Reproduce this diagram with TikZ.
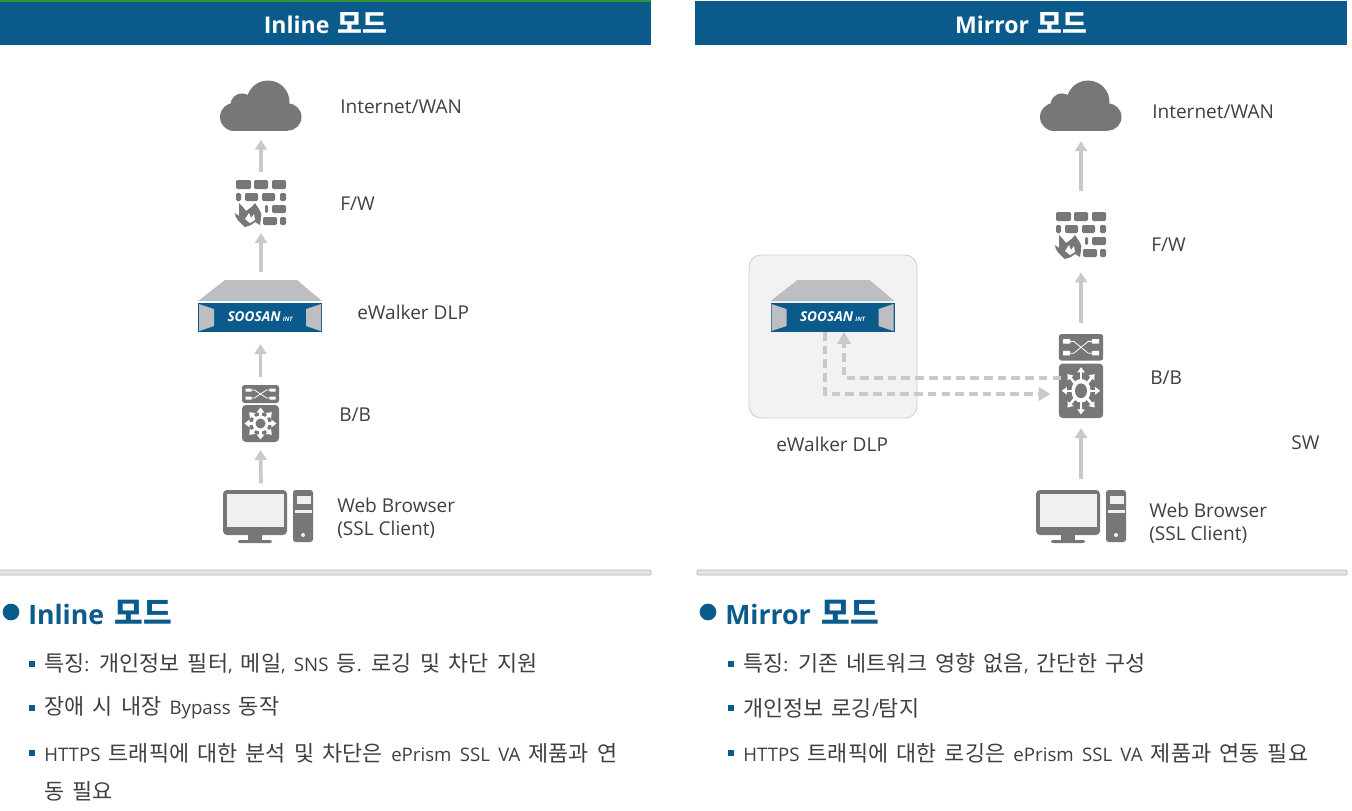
\documentclass[tikz,border=0pt]{standalone}
\usepackage{fontspec}
\setmainfont{Open Sans}
\newfontfamily\krf[Scale=1.17]{Noto Sans CJK KR}
\newcommand{\kr}[1]{{\krf #1}}
\newcommand{\wsp}[1]{\spaceskip #1\relax}
\usetikzlibrary{arrows.meta}
\definecolor{hdrblue}{HTML}{0B5A8C}
\definecolor{icongray}{HTML}{777777}
\definecolor{arrgray}{HTML}{C9C9C9}
\definecolor{txtgray}{HTML}{404040}
\definecolor{srvgray}{HTML}{BDBEC2}
\tikzset{
  x=0.75pt,y=-0.75pt,
  header/.style={fill=hdrblue,draw=none,minimum height=33pt,inner sep=0pt,text=white,font=\fontsize{17.3}{20}\selectfont\bfseries\wsp{6pt}},
  lbl/.style={anchor=west,inner sep=0pt,text=txtgray,font=\fontsize{14.3}{17.5}\selectfont,align=left},
  anchorbox/.style={inner sep=0pt,outer sep=0pt,draw=none},
  flow/.style={draw=arrgray,line width=2.8pt,-{Triangle[length=7.5pt,width=8.8pt]}},
  dflow/.style={draw=arrgray,line width=2.6pt,dash pattern=on 6.5pt off 3.8pt},
  dtip/.style={-{Triangle[length=9pt,width=10pt]}},
  bhead/.style={anchor=west,inner sep=0pt,text=hdrblue,font=\fontsize{20}{24}\selectfont\bfseries\wsp{8pt}},
  bitem/.style={anchor=west,inner sep=0pt,text=txtgray,font=\fontsize{14}{17}\selectfont\wsp{6.2pt}},
  bigdot/.style={circle,fill=hdrblue,inner sep=0pt,minimum size=12.5pt},
  smalldot/.style={rectangle,fill=hdrblue,inner sep=0pt,minimum size=4pt},
  divider/.style={fill=black!10,draw=black!30,line width=.5pt,rounded corners=1pt},
  cloudicon/.pic={
    \fill[icongray] (-27,-9) circle (14) (-19,-21) circle (11.6) (-8,-18) circle (12) (7,-24) circle (21.5) (27,-9) circle (13.5);
    \fill[icongray] (-27,-12) rectangle (27,5);
  },
  fwicon/.pic={
    \fill[icongray,rounded corners=1pt]
      (-25,0) rectangle (-10,9) (-7,0) rectangle (7,9) (11,0) rectangle (25,9)
      (-25,13) rectangle (-20,21) (-16,13) rectangle (-3,21) (1,13) rectangle (14,21) (19,13) rectangle (25,21)
      (4,25) rectangle (7,33) (11,25) rectangle (25,33)
      (2,37) rectangle (16,45) (19,37) rectangle (25,45);
    \fill[icongray] (-22,23) .. controls (-19,26) and (-17,28) .. (-15,31)
      .. controls (-12,29) and (-8,26) .. (-6,23)
      .. controls (-3,28) and (2,33) .. (0,38) -- (-1,45)
      -- (-6,42) -- (-10,45) -- (-16,47)
      .. controls (-22,42) and (-26,38) .. (-26,33) -- (-22,36) -- cycle;
    \fill[white] (-16,39) -- (-12,33) -- (-10,38) -- (-7,34) -- (-6,40) -- (-11,43) -- cycle;
  },
  srvicon/.pic={
    \fill[srvgray] (-35,0) -- (37,0) -- (62,21) -- (-62,21) -- cycle;
    \fill[hdrblue] (-62,23) rectangle (62,52);
    \fill[srvgray] (-61,24) -- (-46,29) -- (-46,46) -- (-61,51) -- cycle;
    \fill[srvgray] (61,24) -- (46,29) -- (46,46) -- (61,51) -- cycle;
    \node[text=white,inner sep=0pt,font=\fontsize{10.2}{11}\selectfont\bfseries\itshape] at (0,37) {SOOSAN\,{\fontsize{4.5}{5}\selectfont INT}};
  },
  swicon/.pic={
    \fill[icongray,rounded corners=2pt] (-18.5,0) rectangle (18.5,18);
    \draw[white,line width=.6pt] (-12,5) -- (-6,5) -- (6,13) -- (12,13) (-12,13) -- (-6,13) -- (6,5) -- (12,5);
    \fill[white] (-15,3.5) rectangle (-9,6.5) (9,3.5) rectangle (15,6.5) (-15,11.5) rectangle (-9,14.5) (9,11.5) rectangle (15,14.5);
    \fill[icongray,rounded corners=3pt] (-18.5,20) rectangle (18.5,57);
    \begin{scope}[shift={(0,38.5)}]
      \foreach \a in {0,45,...,315}{
        \draw[white,line width=1.9pt,-{Triangle[length=3.8pt,width=5.5pt]}] (0,0) -- (\a:16);
      }
      \fill[white] (0,0) circle (8);
      \fill[icongray] (0,0) circle (5);
    \end{scope}
  },
  pcicon/.pic={
    \fill[icongray,rounded corners=3pt] (0,0) rectangle (64,45);
    \fill[black!6] (4,4) rectangle (61,37);
    \fill[icongray] (25,45) rectangle (39,50);
    \fill[icongray,rounded corners=1.5pt] (15,50) rectangle (49,53);
    \fill[icongray,rounded corners=2pt] (70,0) rectangle (90,52);
    \fill[black!6] (74,6) rectangle (88,14);
    \fill[black!6] (72,20) rectangle (89,23);
    \fill[black!6] (80,45) circle (2);
  }
}
\begin{document}
\begin{tikzpicture}
\useasboundingbox (0,0) rectangle (1352,810);
\fill[white] (0,0) rectangle (1352,810);
% headers
\node[header,minimum width=488.25pt] (hl) at (325.5,23) {Inline \kr{모드}};
\node[header,minimum width=489pt] (hr) at (1021,23) {Mirror \kr{모드}};
\fill[green!45!black!80] (0,0) rectangle (651,1.5);
% gray box
\fill[black!5,draw=black!18,line width=.7pt,rounded corners=9pt] (749,255) rectangle (917,418);
% left icons
\pic at (261,126) {cloudicon};
\pic at (261,180) {fwicon};
\pic at (260,280) {srvicon};
\pic at (260.5,385) {swicon};
\pic at (223,490) {pcicon};
% right icons
\pic at (1081,126) {cloudicon};
\pic at (1081,212) {fwicon};
\pic at (832.5,280) {srvicon};
\pic[xscale=1.2,yscale=1.475] at (1081,334) {swicon};
\pic at (1036,490) {pcicon};
% anchor nodes
\node[anchorbox,minimum width=60.75pt,minimum height=37.5pt] (cl) at (261,106) {};
\node[anchorbox,minimum width=39pt,minimum height=35.25pt] (fl) at (261,203.5) {};
\node[anchorbox,minimum width=93pt,minimum height=39pt] (sl) at (260,306) {};
\node[anchorbox,minimum width=27.75pt,minimum height=42.75pt] (bl) at (260.5,413.5) {};
\node[anchorbox,minimum width=67.5pt,minimum height=39.75pt] (pl) at (261,516.5) {};
\node[anchorbox,minimum width=60.75pt,minimum height=37.5pt] (cr) at (1081,106) {};
\node[anchorbox,minimum width=39pt,minimum height=35.25pt] (fr) at (1081,235.5) {};
\node[anchorbox,minimum width=93pt,minimum height=39pt] (sr) at (832.5,306) {};
\node[anchorbox,minimum width=33.75pt,minimum height=63pt] (br) at (1081,376) {};
\node[anchorbox,minimum width=67.5pt,minimum height=39.75pt] (pr) at (1081,516.5) {};
% labels
\node[lbl] (t1) at (340,107) {Internet/WAN};
\node[lbl] (t2) at (340,204) {F/W};
\node[lbl] (t3) at (357,312) {eWalker DLP};
\node[lbl] (t4) at (339,415) {B/B};
\node[lbl] (t5) at (337,518) {Web Browser\\(SSL Client)};
\node[lbl] (t6) at (1152,112) {Internet/WAN};
\node[lbl] (t7) at (1151,245) {F/W};
\node[lbl] (t8) at (776,444) {eWalker DLP};
\node[lbl] (t9) at (1150,378) {B/B};
\node[lbl] (t10) at (1291,443) {SW};
\node[lbl] (t11) at (1149,523) {Web Browser\\(SSL Client)};
% arrows
\draw[flow,shorten <=6pt,shorten >=6.5pt] (fl.north) -- (cl.south);
\draw[flow,shorten <=6pt,shorten >=4.5pt] (sl.north -| fl.north) -- (fl.south);
\draw[flow,shorten <=6pt,shorten >=9pt] (bl.north) -- (sl.south -| bl.north);
\draw[flow,shorten <=5pt,shorten >=6pt] (pl.north) -- (bl.south);
\draw[flow,shorten <=16pt,shorten >=7.5pt] (fr.north) -- (cr.south);
\draw[flow,shorten <=8pt,shorten >=10pt] (br.north) -- (fr.south);
\draw[flow,shorten <=8pt,shorten >=7.5pt] (pr.north) -- (br.south);
% dashed
\coordinate (d1) at (825,394);
\coordinate (d2) at (844,378);
\draw[dflow,dtip,shorten >=6pt] (sr.south -| d1) -- (d1) -- (br.west |- d1);
\draw[dflow,dtip,shorten <=-2pt] (br.west |- d2) -- (d2) -- (sr.south -| d2);
% dividers
\draw[divider] (-3,570) rectangle (651,575);
\draw[divider] (697,570) rectangle (1347,575);
% bullets left
\node[bigdot] (b0) at (11,612) {};
\node[bhead] (h1) at (28,612) {Inline \kr{모드}};
\node[smalldot] (b1) at (32,664) {};
\node[bitem] (i1) at (44,664) {\kr{특징}: \kr{개인정보 필터}, \kr{메일}, SNS \kr{등}. \kr{로깅 및 차단 지원}};
\node[smalldot] (b2) at (32,708) {};
\node[bitem] (i2) at (44,708) {\kr{장애 시 내장} Bypass \kr{동작}};
\node[smalldot] (b3) at (32,753) {};
\node[bitem] (i3) at (44,753) {HTTPS \kr{트래픽에 대한 분석 및 차단은} ePrism SSL VA \kr{제품과 연}};
\node[bitem] (i4) at (44,791) {\kr{동 필요}};
% bullets right
\node[bigdot] (b4) at (708,612) {};
\node[bhead] (h2) at (725,612) {Mirror \kr{모드}};
\node[smalldot] (b5) at (731,664) {};
\node[bitem] (i5) at (743,664) {\kr{특징}: \kr{기존 네트워크 영향 없음}, \kr{간단한 구성}};
\node[smalldot] (b6) at (731,708) {};
\node[bitem] (i6) at (743,708) {\kr{개인정보 로깅}/\kr{탐지}};
\node[smalldot] (b7) at (731,753) {};
\node[bitem] (i7) at (743,753) {HTTPS \kr{트래픽에 대한 로깅은} ePrism SSL VA \kr{제품과 연동 필요}};
\end{tikzpicture}
\end{document}
